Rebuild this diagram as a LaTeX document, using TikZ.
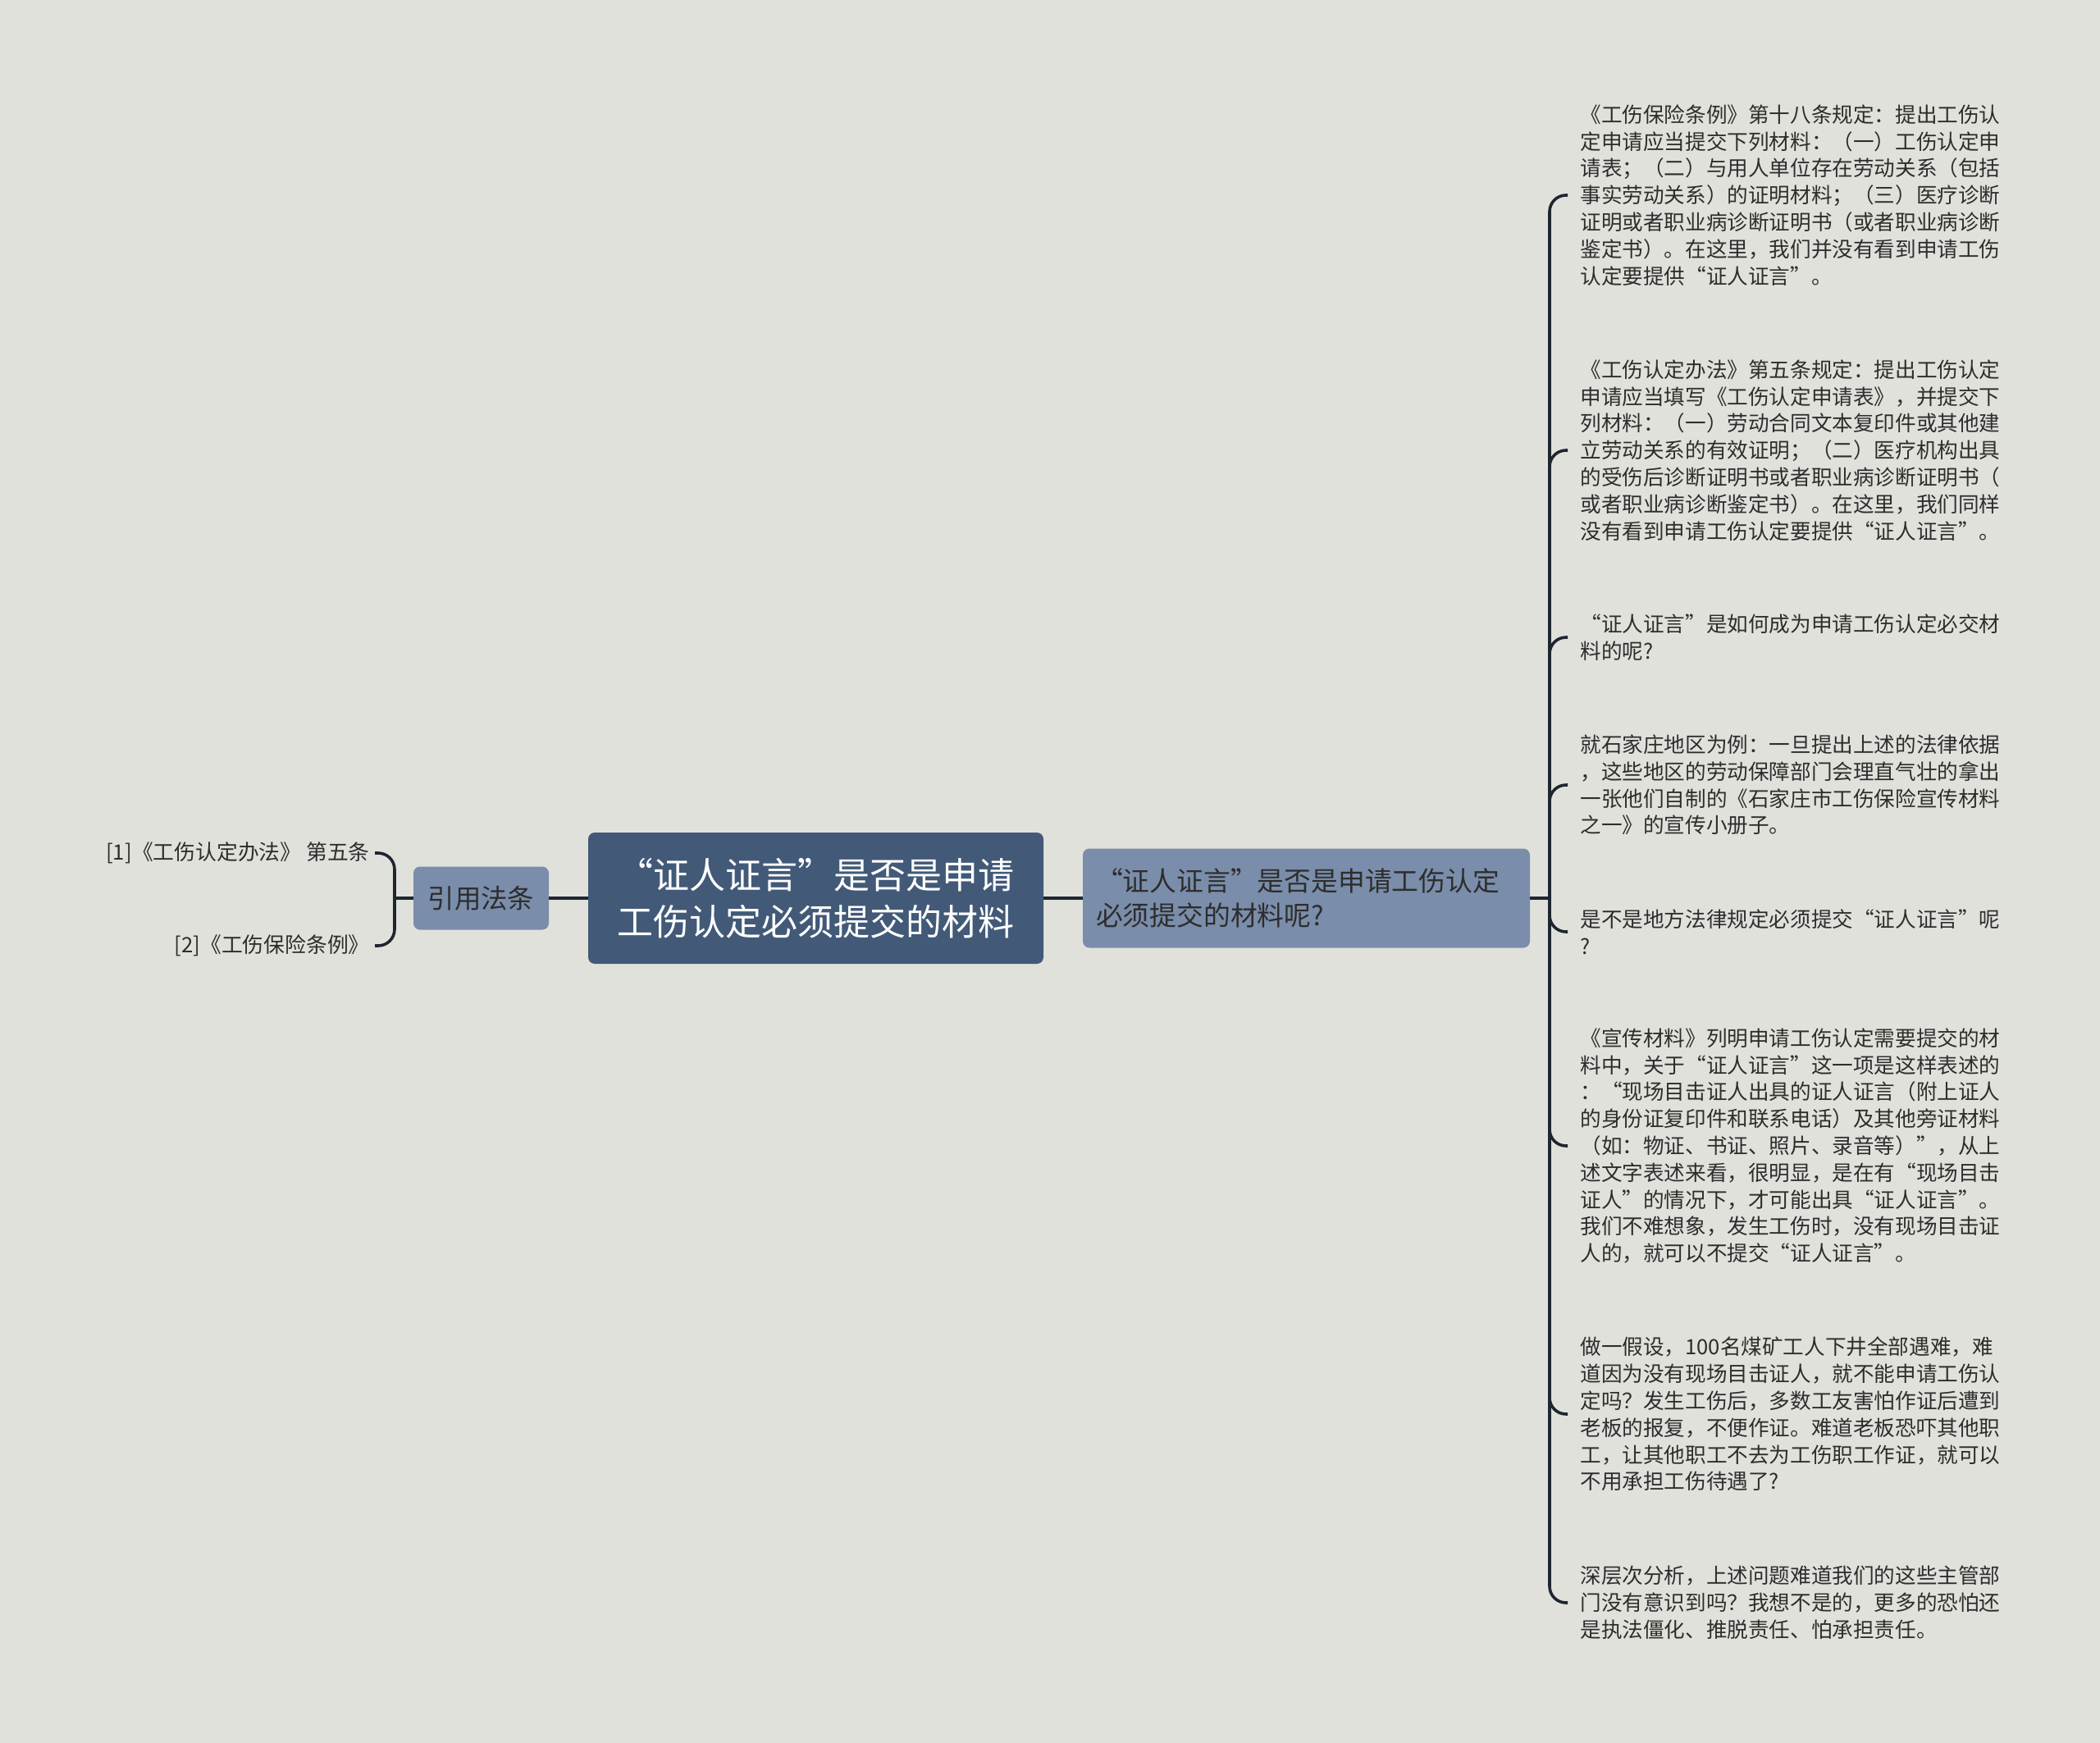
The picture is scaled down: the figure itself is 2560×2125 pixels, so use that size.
\documentclass[tikz,border=0pt]{standalone}
\usepackage{fontspec}
\setmainfont{Noto Sans CJK SC}
\definecolor{bgcol}{RGB}{225,225,220}
\definecolor{rootcol}{RGB}{66,90,120}
\definecolor{subcol}{RGB}{122,141,170}
\definecolor{linecol}{RGB}{30,38,48}
\definecolor{txtcol}{RGB}{45,45,45}
\tikzstyle{boxroot}=[rounded corners=4pt,fill=rootcol,text=white,minimum width=277.5pt,minimum height=80pt,align=center,font=\fontsize{22}{28.5}\selectfont]
\tikzstyle{boxsub}=[rounded corners=4pt,fill=subcol,text=txtcol,minimum height=60.5pt,text width=256.5pt,inner xsep=8pt,align=left,font=\fontsize{16.4}{21}\selectfont]
\tikzstyle{boxref}=[rounded corners=4pt,fill=subcol,text=txtcol,minimum width=82.5pt,minimum height=38.5pt,font=\fontsize{16.2}{21}\selectfont]
\tikzstyle{leafr}=[anchor=west,align=left,inner xsep=7.5pt,text=txtcol,font=\fontsize{12.8}{16.4}\selectfont]
\tikzstyle{leafl}=[anchor=east,align=right,inner xsep=3pt,text=txtcol,font=\fontsize{12.9}{16.4}\selectfont]
\tikzstyle{branch}=[draw=linecol,line width=1.8pt,rounded corners=10pt]

\begin{document}
\begin{tikzpicture}[x=0.5pt,y=-0.5pt]
    \fill[bgcol] (0,0) rectangle (2560,2125);
    \useasboundingbox (0,0) rectangle (2560,2125);
    \node[boxroot] (root) at (994.5,1095) {“证人证言”是否是申请\\工伤认定必须提交的材料};
    \node[boxsub] (sub) at (1592.5,1095) {“证人证言”是否是申请工伤认定\\必须提交的材料呢?};
    \node[boxref] (ref) at (586.5,1095) {引用法条};
    \coordinate (busr) at (1889,1095);
    \coordinate (busl) at (481,1095);

    \node[leafl] (l1) at (457,1040) {[1]《工伤认定办法》 第五条};
    \node[leafl] (l2) at (457,1153) {[2]《工伤保险条例》};

    \node[leafr] (r1) at (1911,238) {《工伤保险条例》第十八条规定：提出工伤认\\定申请应当提交下列材料：（一）工伤认定申\\请表；（二）与用人单位存在劳动关系（包括\\事实劳动关系）的证明材料；（三）医疗诊断\\证明或者职业病诊断证明书（或者职业病诊断\\鉴定书）。在这里，我们并没有看到申请工伤\\认定要提供“证人证言”。};
    \node[leafr] (r2) at (1911,549) {《工伤认定办法》第五条规定：提出工伤认定\\申请应当填写《工伤认定申请表》，并提交下\\列材料：（一）劳动合同文本复印件或其他建\\立劳动关系的有效证明；（二）医疗机构出具\\的受伤后诊断证明书或者职业病诊断证明书（\\或者职业病诊断鉴定书）。在这里，我们同样\\没有看到申请工伤认定要提供“证人证言”。};
    \node[leafr] (r3) at (1911,777) {“证人证言”是如何成为申请工伤认定必交材\\料的呢?};
    \node[leafr] (r4) at (1911,957) {就石家庄地区为例：一旦提出上述的法律依据\\，这些地区的劳动保障部门会理直气壮的拿出\\一张他们自制的《石家庄市工伤保险宣传材料\\之一》的宣传小册子。};
    \node[leafr] (r5) at (1911,1136) {是不是地方法律规定必须提交“证人证言”呢\\?};
    \node[leafr] (r6) at (1911,1397) {《宣传材料》列明申请工伤认定需要提交的材\\料中，关于“证人证言”这一项是这样表述的\\：“现场目击证人出具的证人证言（附上证人\\的身份证复印件和联系电话）及其他旁证材料\\（如：物证、书证、照片、录音等）”，从上\\述文字表述来看，很明显，是在有“现场目击\\证人”的情况下，才可能出具“证人证言”。\\我们不难想象，发生工伤时，没有现场目击证\\人的，就可以不提交“证人证言”。};
    \node[leafr] (r7) at (1911,1724) {做一假设，100名煤矿工人下井全部遇难，难\\道因为没有现场目击证人，就不能申请工伤认\\定吗？发生工伤后，多数工友害怕作证后遭到\\老板的报复，不便作证。难道老板恐吓其他职\\工，让其他职工不去为工伤职工作证，就可以\\不用承担工伤待遇了?};
    \node[leafr] (r8) at (1911,1954) {深层次分析，上述问题难道我们的这些主管部\\门没有意识到吗？我想不是的，更多的恐怕还\\是执法僵化、推脱责任、怕承担责任。};

    \draw[branch] (ref) -- (root);
    \draw[branch] (root) -- (sub);
    \draw[branch] (sub.east) -- (busr);
    \draw[branch] (ref.west) -- (busl);
    \foreach \to in {r1,r2,r3,r4,r5,r6,r7,r8}
    \draw[branch] (busr) |- (\to.west);
    \foreach \to in {l1,l2}
    \draw[branch] (busl) |- (\to.east);
\end{tikzpicture}
\end{document}
